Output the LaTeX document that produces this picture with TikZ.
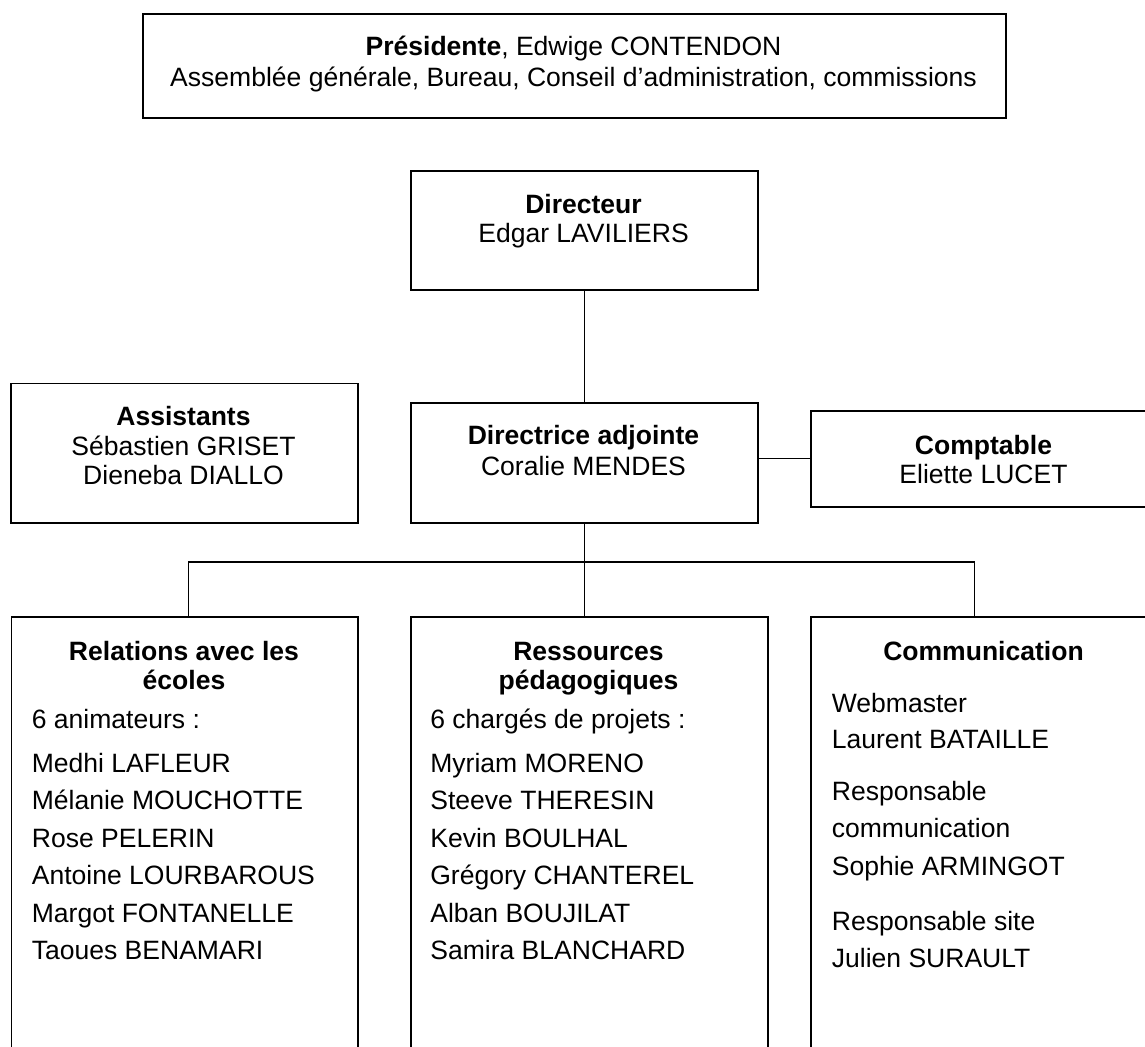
\documentclass[tikz,border=0pt]{standalone}
\usepackage{fontspec}
\setmainfont{Liberation Sans}
\newcommand\orgfont{\fontsize{15.1}{18}\selectfont}

\tikzset{
  box/.style={draw, line width=1pt, anchor=north west, inner sep=0pt},
  hd/.style={anchor=base, inner sep=0pt, font=\orgfont\bfseries},
  txt/.style={anchor=base, inner sep=0pt, font=\orgfont},
  item/.style={anchor=base west, inner sep=0pt, font=\orgfont},
  link/.style={line width=0.6pt}
}

\begin{document}
\begin{tikzpicture}[x=0.02cm, y=-0.02cm]
  \useasboundingbox (0,0) rectangle (1145,1047);
  \clip (0,0) rectangle (1145,1047);

  % Top: presidence
  \node[box, minimum width=17.26cm, minimum height=2.09cm] (pres) at (142,13) {};
  \node[txt] (presA) at (573.5,56) {\textbf{Présidente}, Edwige CONTENDON};
  \node[txt] (presB) at (573.5,87) {Assemblée générale, Bureau, Conseil d’administration, commissions};

  % Direction
  \node[box, minimum width=6.94cm, minimum height=2.39cm] (dir) at (410,170) {};
  \node[hd] (dirT) at (583.5,214) {Directeur};
  \node[txt] (dirN) at (583.5,243) {Edgar LAVILIERS};

  \node[box, minimum width=6.94cm, minimum height=2.79cm] (assist) at (10,382.5) {};
  \node[hd] (assistT) at (183.5,425) {Assistants};
  \node[txt] (assistA) at (183.5,455) {Sébastien GRISET};
  \node[txt] (assistB) at (183.5,484) {Dieneba DIALLO};

  \node[box, minimum width=6.94cm, minimum height=2.4cm] (adj) at (410,402) {};
  \node[hd] (adjT) at (583.5,444) {Directrice adjointe};
  \node[txt] (adjN) at (583.5,475) {Coralie MENDES};

  \node[box, minimum width=6.94cm, minimum height=1.92cm] (compt) at (810,410) {};
  \node[hd] (comptT) at (983.5,454) {Comptable};
  \node[txt] (comptN) at (983.5,483) {Eliette LUCET};

  % Poles
  \node[box, minimum width=6.93cm, minimum height=10cm] (ecoles) at (10.5,616) {};
  \node[hd] (ecolesT) at (184,660) {Relations avec les};
  \node[hd] (ecolesU) at (184,689) {écoles};
  \node[item] (anim) at (31.5,728) {6 animateurs :};
  \foreach \n [count=\i from 0] in {Medhi LAFLEUR, Mélanie MOUCHOTTE, Rose PELERIN,
      Antoine LOURBAROUS, Margot FONTANELLE, Taoues BENAMARI}
    \node[item] (anim\i) at (31.5,{772+37.5*\i}) {\n};

  \node[box, minimum width=7.14cm, minimum height=10cm] (ress) at (410,616) {};
  \node[hd] (ressT) at (588.5,660) {Ressources};
  \node[hd] (ressU) at (588.5,689) {pédagogiques};
  \node[item] (proj) at (430,728) {6 chargés de projets :};
  \foreach \n [count=\i from 0] in {Myriam MORENO, Steeve THERESIN, Kevin BOULHAL,
      Grégory CHANTEREL, Alban BOUJILAT, Samira BLANCHARD}
    \node[item] (proj\i) at (430,{772+37.5*\i}) {\n};

  \node[box, minimum width=6.94cm, minimum height=10cm] (comm) at (810,616) {};
  \node[hd] (commT) at (983.5,660) {Communication};
  \node[item] (web) at (831.5,712) {Webmaster};
  \node[item] (webN) at (831.5,748) {Laurent BATAILLE};
  \node[item] (resp) at (831.5,800) {Responsable};
  \node[item] (respB) at (831.5,837) {communication};
  \node[item] (respN) at (831.5,875) {Sophie ARMINGOT};
  \node[item] (site) at (831.5,930) {Responsable site};
  \node[item] (siteN) at (831.5,967) {Julien SURAULT};

  % Links
  \draw[link] (dir.south) -- (adj.north);
  \draw[link] (compt.west) -- (compt.west -| adj.east);
  \draw[link] (adj.south) -- (adj.south |- ress.north);
  \draw[link] ([xshift=0.08cm]ecoles.north) -- ++(0,-54) -| ([xshift=-0.2cm]comm.north);
\end{tikzpicture}
\end{document}
